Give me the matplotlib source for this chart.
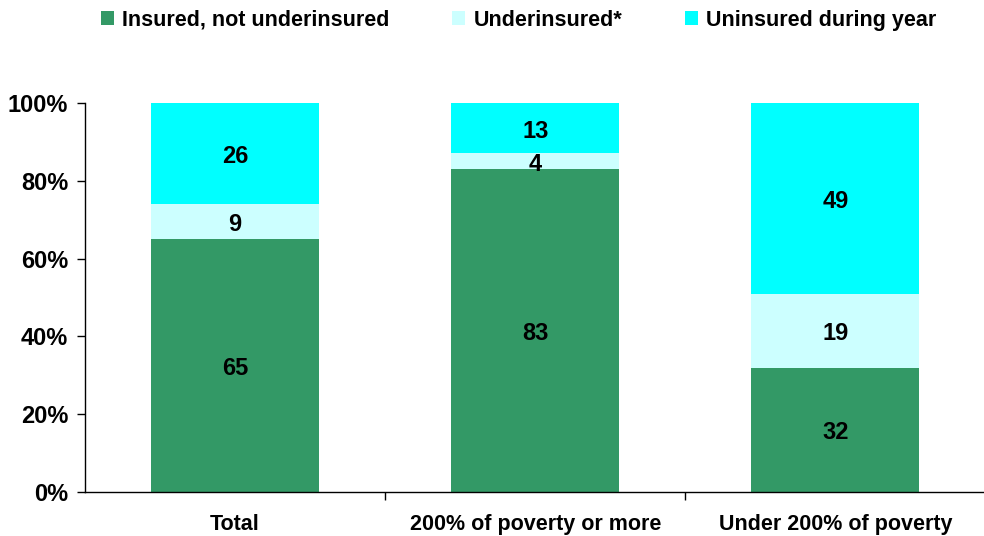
import matplotlib
matplotlib.use('Agg')
import matplotlib.pyplot as plt
import numpy as np

plt.rcParams['font.family'] = ['Liberation Sans', 'DejaVu Sans']
plt.rcParams['font.weight'] = 'bold'

categories = ['Total', '200% of poverty or more', 'Under 200% of poverty']
insured = [65, 83, 32]
underinsured = [9, 4, 19]
uninsured = [26, 13, 49]
series_names = ['Insured, not underinsured', 'Underinsured*', 'Uninsured during year']
colors = ['#339966', '#CCFFFF', '#00FFFF']

fig = plt.figure(figsize=(9.84, 5.36), dpi=100)
ax = fig.add_axes([0.0864, 0.082, 0.915, 0.726])

x = np.arange(len(categories))
bottom = np.zeros(len(categories))
handles = []
for vals, name, col in zip([insured, underinsured, uninsured], series_names, colors):
    vals = np.array(vals, dtype=float)
    b = ax.bar(x, vals, 0.56, bottom=bottom, color=col, label=name, zorder=2)
    handles.append(b)
    for xi, v, bt in zip(x, vals, bottom):
        ax.text(xi, bt + v / 2 - 0.8, f'{int(v)}', ha='center', va='center',
                fontsize=17, fontweight='bold', color='black', zorder=3)
    bottom += vals

ax.set_xlim(-0.5, 2.5)
ax.set_ylim(0, 100)
ax.set_yticks(np.arange(0, 101, 20))
ax.set_yticklabels([f'{v}%' for v in range(0, 101, 20)], fontsize=17, fontweight='bold')
ax.set_xticks(x)
ax.set_xticklabels(categories, fontsize=15.5, fontweight='bold')
ax.tick_params(axis='x', length=0, pad=16)
ax.set_xticks([0.5, 1.5], minor=True)
ax.tick_params(axis='x', which='minor', length=6, width=1, direction='out')
ax.tick_params(axis='y', length=6, width=1, direction='out', pad=6)
for s in ['top', 'right']:
    ax.spines[s].set_visible(False)
ax.spines['left'].set_linewidth(1)
ax.spines['bottom'].set_linewidth(1)

fig.legend(handles=handles, labels=series_names, loc='upper center',
           bbox_to_anchor=(0.527, 1.018), ncol=3, frameon=False,
           prop={'family': ['Liberation Sans Narrow', 'Liberation Sans'], 'weight': 'bold', 'size': 15.5},
           handlelength=0.6, handleheight=0.6, handletextpad=0.4, columnspacing=2.9)

fig.savefig('out.png', dpi=100)
